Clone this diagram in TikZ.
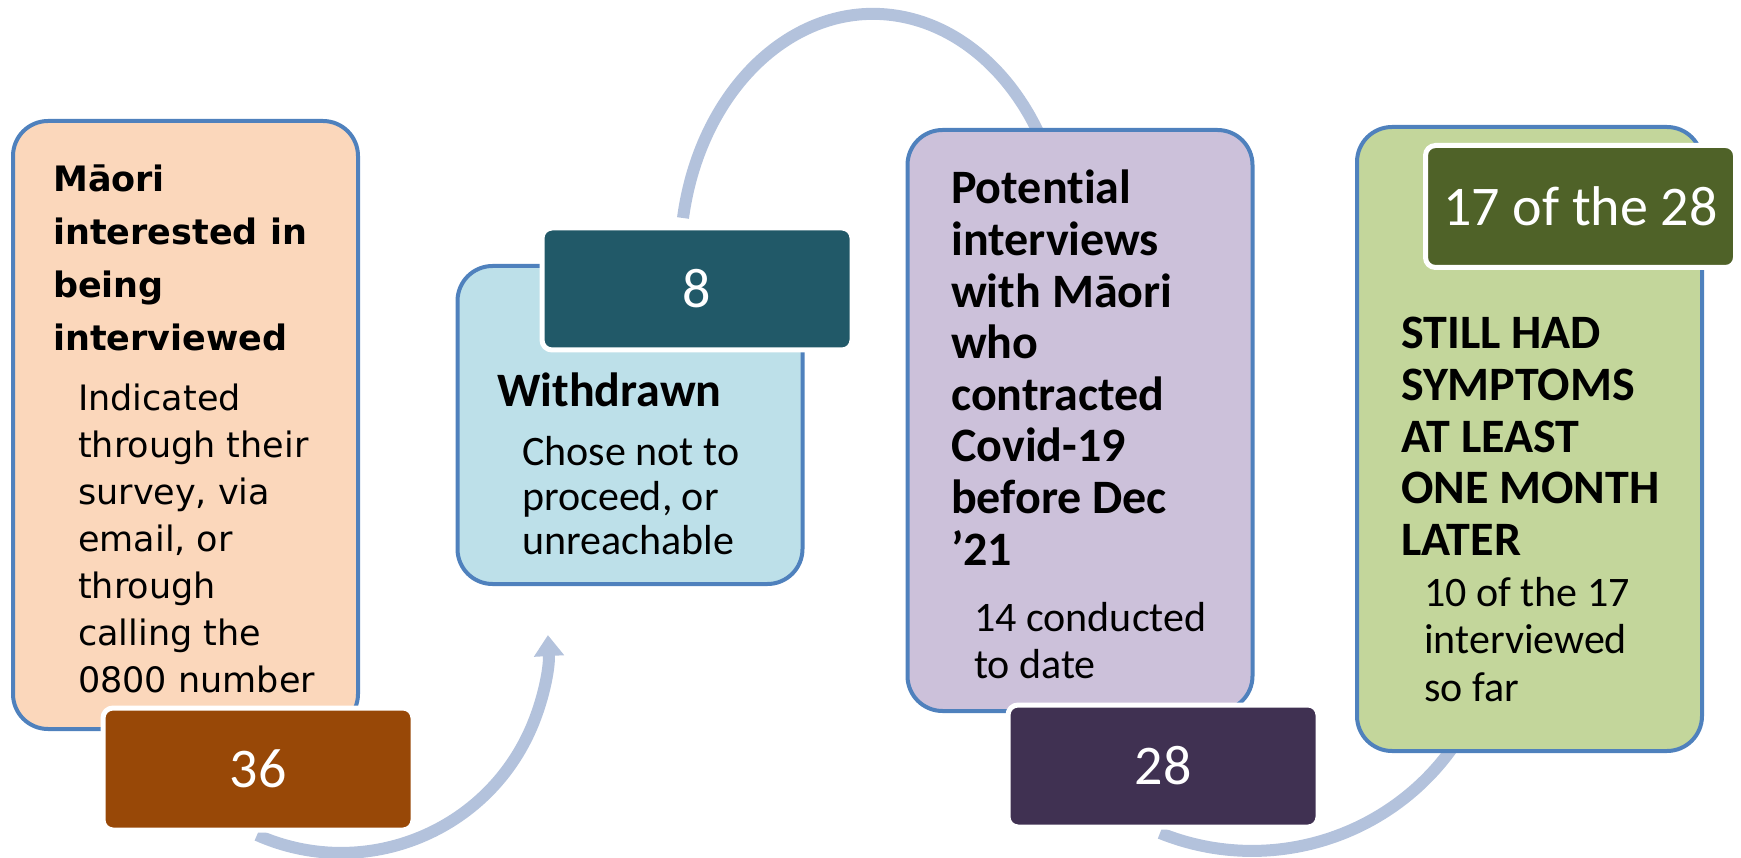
\documentclass[tikz,border=0pt]{standalone}
\usepackage{fontspec}
\setmainfont{Carlito}[Ligatures=NoCommon]
\newfontfamily\verd{DejaVu Sans}
\usetikzlibrary{arrows.meta}
\definecolor{bord}{HTML}{4F81BD}
\definecolor{arr}{HTML}{B3C2DC}
\definecolor{peach}{HTML}{FBD7BB}
\definecolor{brownN}{HTML}{984807}
\definecolor{lblue}{HTML}{BDE0E9}
\definecolor{tealN}{HTML}{215968}
\definecolor{lpurp}{HTML}{CCC1DA}
\definecolor{dpurp}{HTML}{403152}
\definecolor{lgreen}{HTML}{C3D69B}
\definecolor{dgreen}{HTML}{4F6228}
\begin{document}
\begin{tikzpicture}[x=1pt,y=-1pt,
 bigbox/.style={draw=bord, line width=4pt, rounded corners=35pt, minimum width=345pt, inner sep=0pt},
 numbox/.style={draw=white, line width=5pt, rounded corners=10pt, minimum width=310pt, minimum height=122pt, inner sep=0pt, text=white, font=\fontsize{56}{60}\selectfont},
 flow/.style={draw=arr, line width=12pt},
 ttl/.style={anchor=base west, inner sep=0pt, align=flush left, text width=330pt, font=\bfseries\fontsize{48}{51.6}\selectfont},
 sub/.style={anchor=base west, inner sep=0pt, align=flush left, text width=330pt, font=\fontsize{42}{47.5}\selectfont},
 vttl/.style={anchor=base west, inner sep=0pt, align=flush left, text width=330pt, font=\verd\bfseries\fontsize{35}{52.7}\selectfont},
 vsub/.style={anchor=base west, inner sep=0pt, align=flush left, text width=330pt, font=\verd\fontsize{35}{47}\selectfont},
]
\useasboundingbox (0,0) rectangle (1741,858);

% arrows
\coordinate (a1s) at (257,835);
\draw[flow, -{Triangle[width=29pt,length=21pt]}] (a1s) arc[start angle=114, end angle=-3, radius=207];
\coordinate (a2s) at (683,218);
\draw[flow] (a2s) arc[start angle=189.8, end angle=335, x radius=193, y radius=246];
\coordinate (a3s) at (1160,833);
\draw[flow] (a3s) arc[start angle=112, end angle=30, radius=246];

% big boxes
\node[bigbox, fill=peach, minimum height=608pt] (b1) at (185.5,425) {};
\node[bigbox, fill=lblue, minimum height=318pt] (b2) at (630,425) {};
\node[bigbox, fill=lpurp, minimum height=581pt] (b3) at (1080,420.5) {};
\node[bigbox, fill=lgreen, minimum height=624pt] (b4) at (1529.5,439) {};

% texts
\node[vttl] (t1) at (53,192) {Māori\\interested in\\being\\interviewed};
\node[vsub] (s1) at (78,411) {Indicated\\through their\\survey, via\\email, or\\through\\calling the\\0800 number};
\node[ttl] (t2) at (497,407) {Withdrawn};
\node[sub, font=\fontsize{42}{44.4}\selectfont] (s2) at (522,466) {Chose not to\\proceed, or\\unreachable};
\node[ttl] (t3) at (951,204) {Potential\\interviews\\with Māori\\who\\contracted\\Covid-19\\before Dec\\’21};
\node[sub] (s3) at (974,631) {14 conducted\\to date};
\node[ttl] (t4) at (1401,349) {STILL HAD\\SYMPTOMS\\AT LEAST\\ONE MONTH\\LATER};
\node[sub] (s4) at (1424,606) {10 of the 17\\interviewed\\so far};

% number boxes
\node[numbox, fill=brownN] (n1) at (258,769) {36};
\node[numbox, fill=tealN] (n2) at (697,289) {8};
\node[numbox, fill=dpurp] (n3) at (1163,766) {28};
\node[numbox, fill=dgreen] (n4) at (1580.5,206.5) {17 of the 28};
\end{tikzpicture}
\end{document}
